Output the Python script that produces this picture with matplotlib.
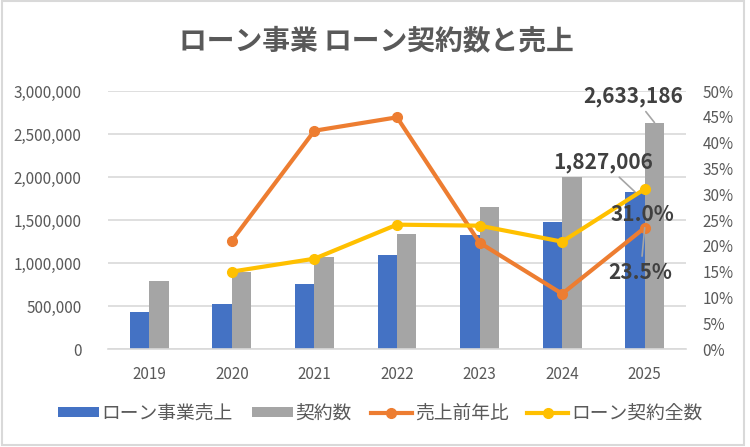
import numpy as np
import matplotlib.pyplot as plt
from matplotlib.patches import Rectangle

plt.rcParams['font.family'] = ['Noto Sans CJK JP', 'DejaVu Sans']

# data
years = ['2019', '2020', '2021', '2022', '2023', '2024', '2025']
loan_sales = [436000, 526000, 761000, 1097000, 1326000, 1480000, 1827006]
contracts = [796000, 900000, 1071000, 1338000, 1651000, 2000000, 2633186]
sales_yoy = [np.nan, 0.210, 0.423, 0.449, 0.206, 0.107, 0.235]
total_contracts = [np.nan, 0.150, 0.175, 0.241, 0.239, 0.208, 0.310]

c_blue = '#4472C4'
c_gray = '#A5A5A5'
c_orange = '#ED7D31'
c_yellow = '#FFC000'
c_text = '#595959'
c_grid = '#D9D9D9'

fig = plt.figure(figsize=(7.5, 4.47), dpi=100)
fig.patches.append(Rectangle((0.002, 0.004), 0.99, 0.993, transform=fig.transFigure,
                             fill=False, edgecolor=c_grid, lw=1.5))

ax = fig.add_axes([108/750, 1-349/447, (686-108)/750, (349-91)/447])
x = np.arange(len(years))
w = 0.236
b1 = ax.bar(x - w/2, loan_sales, w, color=c_blue, label='ローン事業売上', zorder=2)
b2 = ax.bar(x + w/2, contracts, w, color=c_gray, label='契約数', zorder=2)
ax.set_xlim(-0.5, len(years) - 0.5)
ax.set_ylim(0, 3000000)
ax.set_yticks(np.arange(0, 3000001, 500000))
ax.yaxis.set_major_formatter(plt.FuncFormatter(lambda v, p: f'{int(v):,}'))
ax.set_xticks(x)
ax.set_xticklabels(years)
ax.grid(axis='y', color=c_grid, lw=1.2, zorder=0)
ax.set_axisbelow(True)
for s in ['top', 'right', 'left']:
    ax.spines[s].set_visible(False)
ax.spines['bottom'].set_color(c_grid)
ax.spines['bottom'].set_linewidth(1.2)
ax.tick_params(axis='y', length=0, pad=19, labelsize=11, labelcolor=c_text)
ax.tick_params(axis='x', length=0, pad=12, labelsize=11, labelcolor=c_text)

ax2 = ax.twinx()
l1, = ax2.plot(x, sales_yoy, color=c_orange, lw=3, marker='o', ms=7, label='売上前年比')
l2, = ax2.plot(x, total_contracts, color=c_yellow, lw=3, marker='o', ms=7, label='ローン契約全数')
ax2.set_ylim(0, 0.5)
ax2.set_yticks(np.arange(0, 0.51, 0.05))
ax2.yaxis.set_major_formatter(plt.FuncFormatter(lambda v, p: f'{v*100:.0f}%'))
for s in ['top', 'right', 'left', 'bottom']:
    ax2.spines[s].set_visible(False)
ax2.tick_params(axis='y', length=0, pad=12, labelsize=11, labelcolor=c_text)

# data labels for the last year
lab = dict(fontsize=15, fontweight='bold', color='#404040', ha='center', va='center')
arr = dict(arrowstyle='-', color=c_gray, lw=1.2, shrinkA=2, shrinkB=0)
i = len(years) - 1
ax.annotate(f'{contracts[i]:,}', (x[i] + w/2, contracts[i]), xytext=(-15, 19),
            textcoords='offset points', arrowprops=arr, **lab)
ax.annotate(f'{loan_sales[i]:,}', (x[i] - w/2, loan_sales[i]), xytext=(-23, 21.5),
            textcoords='offset points', arrowprops=arr, **lab)
ax2.annotate(f'{total_contracts[i]*100:.1f}%', (x[i], total_contracts[i]), xytext=(-2, -18),
             textcoords='offset points', **lab)
ax2.annotate(f'{sales_yoy[i]*100:.1f}%', (x[i], sales_yoy[i]), xytext=(-3, -32),
             textcoords='offset points', arrowprops=arr, **lab)

fig.text(376/750, 1-42/447, 'ローン事業 ローン契約数と売上', ha='center', va='center',
         fontsize=20, fontweight='bold', color=c_text)

fig.legend(handles=[b1, b2, l1, l2], loc='center', bbox_to_anchor=(380/750, 1-413/447),
           ncol=4, frameon=False, fontsize=13.5, handlelength=2.2, handleheight=0.5,
           handletextpad=0.15, columnspacing=1.0, labelcolor=c_text)

plt.savefig('out.png')
